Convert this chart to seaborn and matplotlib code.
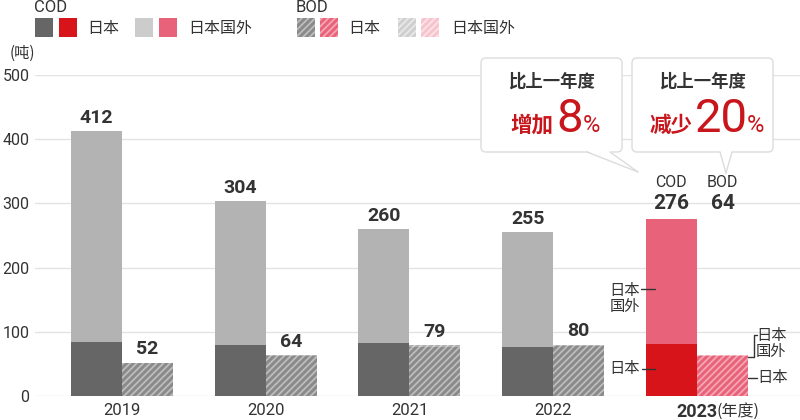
import matplotlib
matplotlib.use('Agg')
import matplotlib.pyplot as plt
import seaborn as sns
import pandas as pd
from matplotlib.patches import Rectangle, FancyBboxPatch, Polygon
from matplotlib.lines import Line2D
from matplotlib.transforms import IdentityTransform

# data
years = ["2019", "2020", "2021", "2022", "2023"]
cod_total = [412, 304, 260, 255, 276]
cod_japan = [84, 80, 83, 77, 81]
bod_total = [52, 64, 79, 80, 64]
bod_japan = [51, 63, 77, 78, 62]
y_ticks = [0, 100, 200, 300, 400, 500]
cod_change = "8"
bod_change = "20"

TXT = "#333333"
RED = "#c8161d"
GREY_JP, GREY_OV = "#666666", "#b3b3b3"
RED_JP, PINK_OV = "#d7141a", "#e8637a"
HATCH = "/////"
CJK = ['Noto Sans CJK SC', 'DejaVu Sans']

sns.set_theme(style="white")
plt.rcParams['font.family'] = ['Roboto', 'Noto Sans CJK SC', 'DejaVu Sans']
plt.rcParams['hatch.linewidth'] = 1.3

df = pd.DataFrame({
    "year": years * 2,
    "kind": ["COD"] * len(years) + ["BOD"] * len(years),
    "total": cod_total + bod_total,
    "japan": cod_japan + bod_japan,
})

W, H = 800, 420
fig = plt.figure(figsize=(W / 100, H / 100), dpi=100)
fig.patch.set_facecolor("white")
ax = fig.add_axes([35 / W, 24 / H, 765 / W, 321 / H])

sns.barplot(data=df, x="year", y="total", hue="kind", hue_order=["COD", "BOD"],
            palette={"COD": GREY_OV, "BOD": "#a9a9a9"}, width=0.71, gap=0,
            saturation=1, errorbar=None, linewidth=0, legend=False, ax=ax)
sns.barplot(data=df, x="year", y="japan", hue="kind", hue_order=["COD", "BOD"],
            palette={"COD": GREY_JP, "BOD": "#8a8a8a"}, width=0.71, gap=0,
            saturation=1, errorbar=None, linewidth=0, legend=False, ax=ax)

cod_ov, bod_ov, cod_jp, bod_jp = ax.containers[:4]
last = len(years) - 1
for i, p in enumerate(cod_ov):
    p.set_facecolor(PINK_OV if i == last else GREY_OV)
for i, p in enumerate(cod_jp):
    p.set_facecolor(RED_JP if i == last else GREY_JP)
for i, p in enumerate(bod_ov):
    p.set_facecolor("#f2a3b0" if i == last else "#adadad")
    p.set_edgecolor("#f9d2d9" if i == last else "#d0d0d0")
    p.set_hatch(HATCH)
    p.set_linewidth(0)
for i, p in enumerate(bod_jp):
    p.set_facecolor(PINK_OV if i == last else "#8a8a8a")
    p.set_edgecolor("#f4a6b3" if i == last else "#bdbdbd")
    p.set_hatch(HATCH)
    p.set_linewidth(0)

ax.set_xlim(-0.605, 4.717)
ax.set_ylim(0, 500)
ax.set_yticks(y_ticks)
ax.grid(axis='y', color="#e3e3e3", linewidth=1)
ax.set_axisbelow(True)
for s in ax.spines.values():
    s.set_visible(False)
ax.set_xlabel("")
ax.set_ylabel("")
ax.tick_params(axis='both', length=0, colors=TXT)
ax.tick_params(axis='y', labelsize=11.5, pad=4)
ax.tick_params(axis='x', labelsize=12, pad=5)
ax.set_xticks(range(len(years)))
ax.set_xticklabels(years)
ax.get_xticklabels()[last].set_fontweight('bold')
ax.get_xticklabels()[last].set_fontsize(13)

# value labels
half = 0.71 / 4
for i in range(last):
    for x, val in [(i - half, cod_total[i]), (i + half, bod_total[i])]:
        ax.annotate(str(val), (x, val), xytext=(0, 3),
                    textcoords='offset points', ha='center', va='bottom',
                    fontsize=14, fontweight='bold', color=TXT)
for dx, name, val in [(-half, "COD", cod_total[last]), (half, "BOD", bod_total[last])]:
    ax.annotate(str(val), (last + dx, cod_total[last]), xytext=(0, 4),
                textcoords='offset points', ha='center', va='bottom',
                fontsize=15, fontweight='bold', color=TXT)
    ax.annotate(name, (last + dx, cod_total[last]), xytext=(0, 21),
                textcoords='offset points', ha='center', va='bottom',
                fontsize=11.5, color=TXT)

# pixel helpers (origin top-left)
PX = IdentityTransform()


def px(x, y):
    return x, H - y


def ftext(x, y, s, **kw):
    kw.setdefault('color', TXT)
    fig.text(*px(x, y), s, transform=PX, **kw)


def fline(xs, ys, **kw):
    fig.add_artist(Line2D(xs, [H - y for y in ys], transform=PX,
                          color=kw.pop('color', TXT), lw=kw.pop('lw', 1), **kw))


ftext(717, 411, "(年度)", ha='left', va='center', fontsize=11.5, family=CJK)
ftext(10, 53, "(吨)", ha='left', va='center', fontsize=11, family=CJK)

# legend
ftext(34, 8, "COD", ha='left', va='center', fontsize=12)
ftext(296, 8, "BOD", ha='left', va='center', fontsize=12)
swatches = [
    (35, GREY_JP, None, None), (59, RED_JP, None, None),
    (135, "#cccccc", None, None), (159, PINK_OV, None, None),
    (297, "#8a8a8a", "#bdbdbd", HATCH), (320, PINK_OV, "#f4a6b3", HATCH),
    (398, "#cfcfcf", "#e8e8e8", HATCH), (421, "#f7c3cc", "#fbe3e8", HATCH),
]
for x0, fc, hc, hatch in swatches:
    r = Rectangle(px(x0, 37), 18, 19, transform=PX, facecolor=fc,
                  edgecolor=hc if hc else "none", hatch=hatch, linewidth=0)
    fig.add_artist(r)
for x0, s in [(87, "日本"), (188, "日本国外"), (348, "日本"), (451, "日本国外")]:
    ftext(x0, 29, s, ha='left', va='center', fontsize=11.5)

# callouts
for bx, tip, base, word, num, cx in [
        (481, (638, 172), (587, 610), "增加", cod_change, 532),
        (632, (726, 173), (720, 732), "减少", bod_change, 671)]:
    box = FancyBboxPatch(px(bx, 152), 141, 94, transform=PX,
                         boxstyle="round,pad=0,rounding_size=5",
                         facecolor="white", edgecolor="#dcdcdc", lw=1, zorder=5)
    fig.add_artist(box)
    fig.add_artist(Polygon([px(base[0], 151), px(base[1], 151), px(*tip)],
                           closed=True, transform=PX, facecolor="white",
                           edgecolor="none", zorder=6))
    fline([base[0], tip[0]], [152, tip[1]], color="#dcdcdc", zorder=6)
    fline([base[1], tip[0]], [152, tip[1]], color="#dcdcdc", zorder=6)
    ftext(bx + 70.5, 81, "比上一年度", ha='center', va='center',
          fontsize=12.5, fontweight='bold', zorder=7)
    ftext(cx, 132, word, ha='center', va='baseline', fontsize=15.5,
          fontweight='bold', color=RED, zorder=7)
    nx = cx + 24
    ftext(nx, 132, num, ha='left', va='baseline', fontsize=34, color=RED, zorder=7)
    ftext(nx + 25.5 * len(num) + 1, 132, "%", ha='left', va='baseline',
          fontsize=17, color=RED, zorder=7)

# side labels for 2023
ftext(640, 299, "日本\n国外", ha='right', va='center', fontsize=11,
      linespacing=1.15)
fline([641, 655], [289, 289])
ftext(640, 369, "日本", ha='right', va='center', fontsize=11)
fline([642, 655], [369, 369])
fline([748, 754, 754, 757], [357, 357, 335, 335])
ftext(756, 344, "日本\n国外", ha='left', va='center', fontsize=11,
      linespacing=1.15)
fline([748, 757], [378, 378])
ftext(757, 378, "日本", ha='left', va='center', fontsize=11)

fig.savefig("out.png", dpi=100)
